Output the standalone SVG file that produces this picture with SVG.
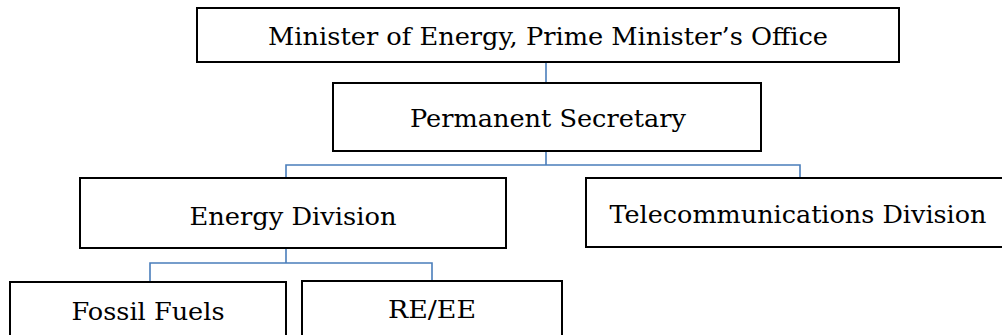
<svg xmlns="http://www.w3.org/2000/svg" width="1002" height="335" viewBox="0 0 1002 335">
<style>
.box{fill:#fff;stroke:#000;stroke-width:2}
.lbl{font-family:"DejaVu Serif","Liberation Serif",serif;font-size:25px;fill:#000;text-anchor:middle}
.conn{fill:none;stroke:#4a7ebb;stroke-width:1.6}
</style>
<rect width="1002" height="335" fill="#fff"/>
<g id="connectors">
<path class="conn" d="M546 62V83"/>
<path class="conn" d="M546 151V165M286 178V165H800V178"/>
<path class="conn" d="M286 248V263M150 281V263H432V281"/>
</g>
<g id="minister">
<rect class="box" x="197" y="8" width="702" height="54"/>
<text class="lbl" x="548" y="45" textLength="560" lengthAdjust="spacingAndGlyphs">Minister of Energy, Prime Minister’s Office</text>
</g>
<g id="permsec">
<rect class="box" x="333" y="83" width="428" height="68"/>
<text class="lbl" x="548" y="127" textLength="276" lengthAdjust="spacingAndGlyphs">Permanent Secretary</text>
</g>
<g id="energy">
<rect class="box" x="80" y="178" width="426" height="70"/>
<text class="lbl" x="293" y="225" textLength="207" lengthAdjust="spacingAndGlyphs">Energy Division</text>
</g>
<g id="telecom">
<rect class="box" x="586" y="178" width="430" height="69"/>
<text class="lbl" x="798" y="223" textLength="377" lengthAdjust="spacingAndGlyphs">Telecommunications Division</text>
</g>
<g id="fossil">
<rect class="box" x="10" y="282" width="276" height="70"/>
<text class="lbl" x="148" y="320" textLength="153" lengthAdjust="spacingAndGlyphs">Fossil Fuels</text>
</g>
<g id="reee">
<rect class="box" x="302" y="281" width="260" height="70"/>
<text class="lbl" x="432" y="318" textLength="88" lengthAdjust="spacingAndGlyphs">RE/EE</text>
</g>
</svg>
